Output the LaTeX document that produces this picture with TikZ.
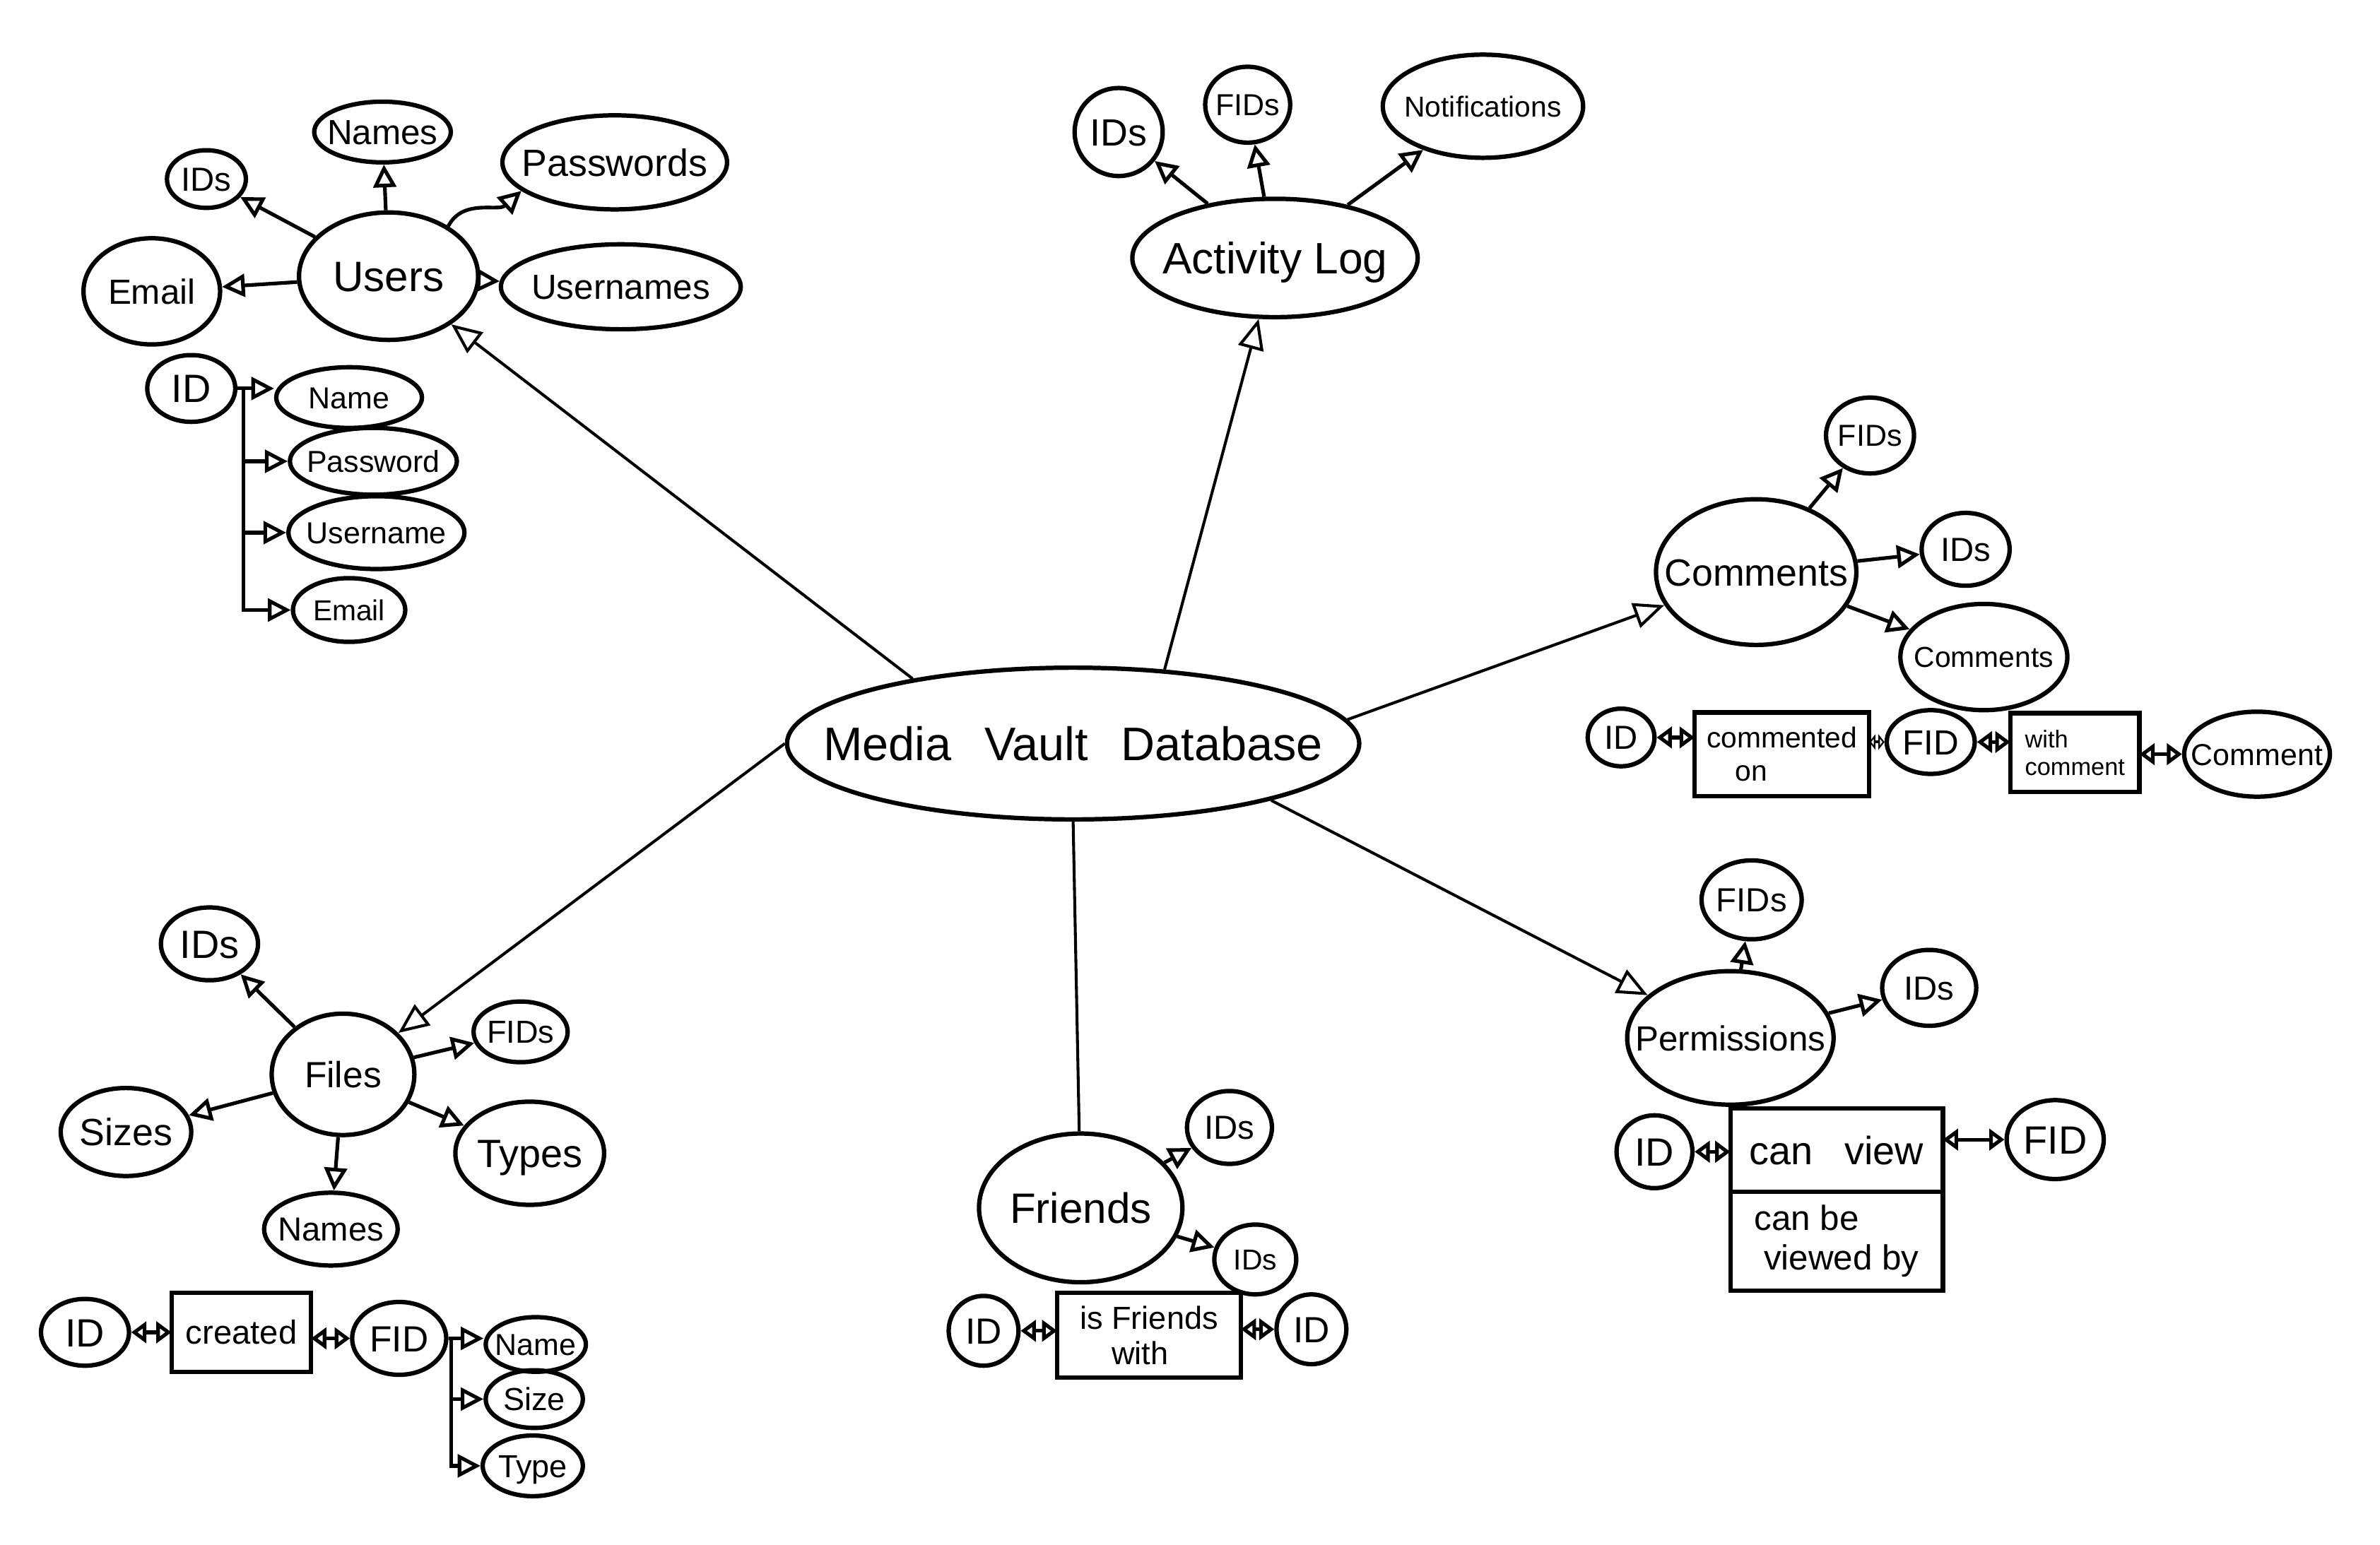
\documentclass[tikz,border=0pt]{standalone}
\usepackage{fontspec}
\setmainfont{Liberation Sans}
\usetikzlibrary{shapes.geometric,arrows.meta}
\newcommand\ctxt[1]{\makebox[0pt]{\raisebox{-0.36em}[0pt][0pt]{#1}}}
\begin{document}
\begin{tikzpicture}[x=1pt,y=-1pt,
  ent/.style={draw, ellipse, line width=2.9pt, inner sep=0pt},
  sz/.style 2 args={minimum width=#1pt, minimum height=#2pt},
  fs/.style={font=\fontsize{#1pt}{#1pt}\selectfont},
  rbox/.style={draw, rectangle, line width=2.9pt, inner sep=3pt, outer sep=0pt},
  con/.style={line width=2.4pt, -{Triangle[open, length=15pt, width=15pt]}},
  hub/.style={line width=1.9pt, -{Triangle[open, length=20pt, width=17pt]}},
  hubplain/.style={line width=1.9pt},
  rel/.style={line width=2.4pt, {Triangle[open, length=10pt, width=14pt]}-{Triangle[open, length=10pt, width=14pt]}},
  rels/.style={line width=1.9pt, {Triangle[open, length=4pt, width=10pt]}-{Triangle[open, length=4pt, width=10pt]}}
]
\path[use as bounding box, fill=white] (0,0) rectangle (1568,1018);

% central
\node[ent, sz={377}{100}, fs=31] (mvd) at (707,490) {\ctxt{Media\hspace{0.7em}Vault\hspace{0.7em}Database}};

% Users cluster
\node[ent, sz={118}{84}, fs=28] (users) at (256,182) {\ctxt{Users}};
\node[ent, sz={90}{40}, fs=23] (unames) at (252,87) {\ctxt{Names}};
\node[ent, sz={52}{38}, fs=22] (uids) at (136,118) {\ctxt{IDs}};
\node[ent, sz={148}{62}, fs=25] (upass) at (405,107) {\ctxt{Passwords}};
\node[ent, sz={90}{70}, fs=23] (uemail) at (100,192) {\ctxt{Email}};
\node[ent, sz={158}{56}, fs=23] (uusern) at (409,189) {\ctxt{Usernames}};
\draw[con] (users) -- (uids);
\draw[con] (users) -- (unames);
\draw[con] (users.40) to[out=62,in=222] (upass.197);
\draw[con] (users) -- (uemail);
\draw[con] (users) -- (uusern);

% ID list
\node[ent, sz={58}{44}, fs=26] (lid) at (126,256) {\ctxt{ID}};
\node[ent, sz={96}{40}, fs=20] (lname) at (230,262) {\ctxt{Name}};
\node[ent, sz={110}{44}, fs=20] (lpass) at (246,304) {\ctxt{Password}};
\node[ent, sz={116}{48}, fs=20] (luser) at (248,351) {\ctxt{Username}};
\node[ent, sz={74}{42}, fs=19] (lemail) at (230,402) {\ctxt{Email}};
\draw[con] (lid.east) -- (lid.east -| lname.west);
\draw[con] ([xshift=4pt]lid.east) |- (lpass.west);
\draw[con] ([xshift=4pt]lid.east) |- (luser.west);
\draw[con] ([xshift=4pt]lid.east) |- (lemail.west);

% Activity Log
\node[ent, sz={188}{78}, fs=29] (al) at (840,170) {\ctxt{Activity Log}};
\node[ent, sz={58}{58}, fs=25] (alids) at (737,87) {\ctxt{IDs}};
\node[ent, sz={56}{50}, fs=20] (alfids) at (822,69) {\ctxt{FIDs}};
\node[ent, sz={132}{68}, fs=19] (alnot) at (977,70) {\ctxt{Notifications}};
\draw[con] (al) -- (alids);
\draw[con] (al) -- (alfids);
\draw[con] (al) -- (alnot);

% Comments
\node[ent, sz={132}{96}, fs=25] (com) at (1157,377) {\ctxt{Comments}};
\node[ent, sz={58}{50}, fs=20] (cfids) at (1232,287) {\ctxt{FIDs}};
\node[ent, sz={58}{48}, fs=22] (cids) at (1295,362) {\ctxt{IDs}};
\node[ent, sz={110}{70}, fs=19] (ccom) at (1307,433) {\ctxt{Comments}};
\draw[con] (com) -- (cfids);
\draw[con] (com) -- (cids);
\draw[con] (com) -- (ccom);
\node[ent, sz={44}{38}, fs=22] (crid) at (1068,486) {\ctxt{ID}};
\node[rbox, minimum width=115pt, minimum height=55pt, align=left, font=\fontsize{19pt}{22pt}\selectfont] (ccon) at (1174,497) {commented\\\quad on};
\node[ent, sz={58}{42}, fs=23] (crfid) at (1272,489) {\ctxt{FID}};
\node[rbox, minimum width=85pt, minimum height=52pt, align=left, font=\fontsize{16pt}{18pt}\selectfont] (cwith) at (1367,496) {with\\comment};
\node[ent, sz={96}{56}, fs=20] (crcom) at (1487,497) {\ctxt{Comment}};
\draw[rel] (crid.east) -- (crid.east -| ccon.west);
\draw[rels] (ccon.east |- crfid.west) -- (crfid.west);
\draw[rel] (crfid.east) -- (crfid.east -| cwith.west);
\draw[rel] (cwith.east |- crcom.west) -- (crcom.west);

% Permissions
\node[ent, sz={136}{88}, fs=23] (perm) at (1140,684) {\ctxt{Permissions}};
\node[ent, sz={66}{52}, fs=22] (pfids) at (1154,593) {\ctxt{FIDs}};
\node[ent, sz={62}{50}, fs=22] (pids) at (1271,651) {\ctxt{IDs}};
\draw[con] (perm) -- (pfids);
\draw[con] (perm) -- (pids);
\node[ent, sz={50}{48}, fs=26] (prid) at (1090,759) {\ctxt{ID}};
\node[rbox, minimum width=140pt, minimum height=55pt, fs=26] (pview) at (1210,758) {can\hspace{0.8em}view};
\node[rbox, minimum width=140pt, minimum height=65pt, align=left, font=\fontsize{23pt}{26pt}\selectfont, anchor=north] (pviewed) at (pview.south) {can be\\\ viewed by};
\node[ent, sz={64}{52}, fs=26] (prfid) at (1354,751) {\ctxt{FID}};
\draw[rel] (prid.east) -- (prid.east -| pview.west);
\draw[rel] (pview.east |- prfid.west) -- (prfid.west);

% Friends
\node[ent, sz={134}{98}, fs=28] (fr) at (712,796) {\ctxt{Friends}};
\node[ent, sz={56}{48}, fs=22] (frids1) at (810,743) {\ctxt{IDs}};
\node[ent, sz={54}{46}, fs=19] (frids2) at (827,830) {\ctxt{IDs}};
\draw[con] (fr) -- (frids1);
\draw[con] (fr) -- (frids2);
\node[ent, sz={46}{46}, fs=24] (frid1) at (648,877) {\ctxt{ID}};
\node[rbox, minimum width=121pt, minimum height=56pt, align=left, font=\fontsize{21pt}{23pt}\selectfont] (frbox) at (757,880) {is Friends\\\quad with};
\node[ent, sz={46}{46}, fs=24] (frid2) at (864,876) {\ctxt{ID}};
\draw[rel] (frid1.east) -- (frid1.east -| frbox.west);
\draw[rel] (frbox.east |- frid2.west) -- (frid2.west);

% Files
\node[ent, sz={94}{80}, fs=24] (files) at (226,708) {\ctxt{Files}};
\node[ent, sz={64}{48}, fs=26] (fids) at (138,622) {\ctxt{IDs}};
\node[ent, sz={62}{40}, fs=21] (ffids) at (343,680) {\ctxt{FIDs}};
\node[ent, sz={86}{58}, fs=25] (fsizes) at (83,746) {\ctxt{Sizes}};
\node[ent, sz={98}{68}, fs=26] (ftypes) at (349,760) {\ctxt{Types}};
\node[ent, sz={88}{48}, fs=22] (fnames) at (218,810) {\ctxt{Names}};
\draw[con] (files) -- (fids);
\draw[con] (files) -- (ffids);
\draw[con] (files) -- (fsizes);
\draw[con] (files) -- (ftypes);
\draw[con] (files) -- (fnames);
\node[ent, sz={58}{44}, fs=26] (frwid) at (56,878) {\ctxt{ID}};
\node[rbox, minimum width=92pt, minimum height=52pt, fs=22] (fcreated) at (159,878) {created};
\node[ent, sz={62}{48}, fs=24] (frfid) at (263,882) {\ctxt{FID}};
\node[ent, sz={66}{36}, fs=20] (frname) at (353,886) {\ctxt{Name}};
\node[ent, sz={64}{38}, fs=21] (frsize) at (352,922) {\ctxt{Size}};
\node[ent, sz={66}{40}, fs=21] (frtype) at (351,966) {\ctxt{Type}};
\draw[rel] (frwid.east) -- (frwid.east -| fcreated.west);
\draw[rel] (fcreated.east |- frfid.west) -- (frfid.west);
\draw[con] (frfid.east) -- (frfid.east -| frname.west);
\draw[con] ([xshift=2pt]frfid.east) |- (frsize.west);
\draw[con] ([xshift=2pt]frfid.east) |- (frtype.west);

% hub connectors
\draw[hub] (mvd.158) -- (users);
\draw[hub] (mvd.39) -- (al);
\draw[hub] (mvd.5) -- (com);
\draw[hub] (mvd.-16) -- (perm);
\draw[hubplain] (mvd.south) -- (fr);
\draw[hub] (mvd.180) -- (files);
\end{tikzpicture}
\end{document}
